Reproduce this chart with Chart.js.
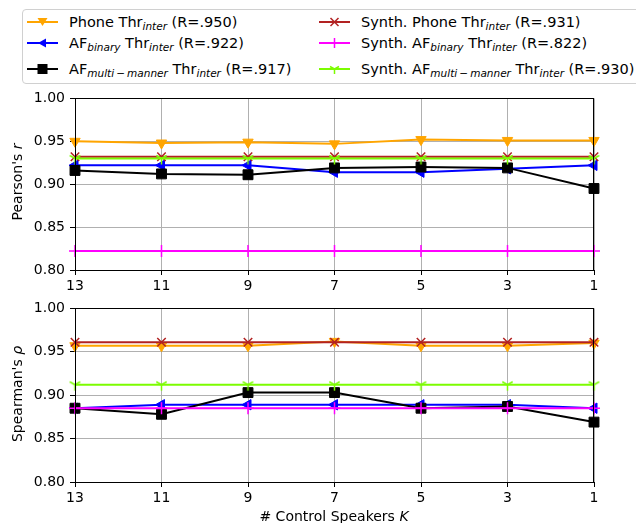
<!DOCTYPE html>
<html>
<head>
<meta charset="utf-8">
<script src="https://cdn.jsdelivr.net/npm/chart.js@4"></script>
<style>
  body { margin: 0; background: #fff; font-family: "DejaVu Sans", sans-serif; }
  #wrap { position: relative; width: 636px; height: 523px; overflow: hidden; }
  #legend { position: absolute; left: 22px; top: 9px; width: 640px; height: 75px;
            border: 1px solid #d0d0d0; border-radius: 4px; box-sizing: border-box; }
  .item { position: absolute; height: 20px; line-height: 20px; font-size: 14.5px; white-space: nowrap; }
  .item svg { position: absolute; left: 0; top: 3px; }
  .item span { position: absolute; left: 42px; }
  sub { font-size: 10.5px; font-style: italic; vertical-align: -3px; line-height: 0; }
  canvas { position: absolute; left: 0; }
  .ytitle { position: absolute; font-size: 14px; white-space: nowrap; transform: translate(-50%, -50%) rotate(-90deg); }
  .xtitle { position: absolute; font-size: 14px; white-space: nowrap; transform: translateX(-50%); }
</style>
</head>
<body>
<div id="wrap">
  <div id="legend"></div>
  <canvas id="pearson" width="636" height="210" style="top:85px"></canvas>
  <canvas id="spearman" width="636" height="228" style="top:295px"></canvas>
  <div class="ytitle" style="left:17px; top:182px">Pearson's <i>r</i></div>
  <div class="ytitle" style="left:17px; top:394px">Spearman's <i>ρ</i></div>
  <div class="xtitle" style="left:334px; top:508px"># Control Speakers <i>K</i></div>
</div>
<script>
// x categories: number of control speakers
const speakers = ["13", "11", "9", "7", "5", "3", "1"];
const yTicks = [0.80, 0.85, 0.90, 0.95, 1.00];

// Pearson's r
const pearsonPhone = [0.950, 0.948, 0.949, 0.947, 0.952, 0.951, 0.951];
const pearsonAfBinary = [0.922, 0.922, 0.922, 0.914, 0.914, 0.918, 0.922];
const pearsonAfMulti = [0.916, 0.912, 0.911, 0.919, 0.920, 0.919, 0.895];
const pearsonSynthPhone = [0.932, 0.932, 0.932, 0.932, 0.932, 0.932, 0.932];
const pearsonSynthBinary = [0.822, 0.822, 0.822, 0.822, 0.822, 0.822, 0.822];
const pearsonSynthMulti = [0.930, 0.930, 0.930, 0.930, 0.930, 0.930, 0.930];

// Spearman's rho
const spearmanPhone = [0.957, 0.957, 0.957, 0.962, 0.957, 0.957, 0.960];
const spearmanAfBinary = [0.885, 0.889, 0.889, 0.889, 0.889, 0.889, 0.885];
const spearmanAfMulti = [0.885, 0.878, 0.903, 0.903, 0.885, 0.887, 0.869];
const spearmanSynthPhone = [0.961, 0.961, 0.961, 0.961, 0.961, 0.961, 0.961];
const spearmanSynthBinary = [0.885, 0.885, 0.885, 0.885, 0.885, 0.885, 0.885];
const spearmanSynthMulti = [0.912, 0.912, 0.912, 0.912, 0.912, 0.912, 0.912];

Chart.defaults.font.family = "DejaVu Sans";
Chart.defaults.font.size = 14;
Chart.defaults.color = "#000";

// tri_down marker (like matplotlib '1')
function triDown(color) {
    const c = document.createElement("canvas");
    c.width = 13; c.height = 13;
    const g = c.getContext("2d");
    g.strokeStyle = color;
    g.lineWidth = 1.5;
    g.beginPath();
    g.moveTo(6.5, 6.5); g.lineTo(6.5, 12.5);
    g.moveTo(6.5, 6.5); g.lineTo(1.3, 3.5);
    g.moveTo(6.5, 6.5); g.lineTo(11.7, 3.5);
    g.stroke();
    return c;
}

const styles = [
    { color: "#ffa500", pointStyle: "triangle", rotation: 180, radius: 6, order: 6 },
    { color: "#0000ff", pointStyle: "triangle", rotation: 270, radius: 6, order: 5 },
    { color: "#000000", pointStyle: "rect", rotation: 0, radius: 7, order: 4 },
    { color: "#b22222", pointStyle: "crossRot", rotation: 0, radius: 6, order: 3 },
    { color: "#ff00ff", pointStyle: "cross", rotation: 0, radius: 6, order: 2 },
    { color: "#7cfc00", pointStyle: triDown("#7cfc00"), rotation: 0, radius: 6, order: 1 },
];

// spines on all four sides
const boxPlugin = {
    id: "box",
    afterDatasetsDraw(chart) {
        const a = chart.chartArea, ctx = chart.ctx;
        ctx.save();
        ctx.strokeStyle = "#000";
        ctx.lineWidth = 1;
        ctx.strokeRect(Math.round(a.left) + 0.5, Math.round(a.top) + 0.5,
            Math.round(a.right - a.left) - 1, Math.round(a.bottom - a.top));
        ctx.restore();
    }
};

function makeChart(id, series, padTop, xHeight) {
    const datasets = series.map((data, i) => ({
        data: data,
        borderColor: styles[i].color,
        backgroundColor: styles[i].color,
        borderWidth: 2,
        pointStyle: styles[i].pointStyle,
        pointRotation: styles[i].rotation,
        pointRadius: styles[i].radius,
        pointBorderWidth: (i === 3 || i === 4) ? 1.5 : 1,
        order: styles[i].order,
        tension: 0,
    }));
    return new Chart(document.getElementById(id), {
        type: "line",
        data: { labels: speakers, datasets: datasets },
        options: {
            responsive: false,
            animation: false,
            layout: { padding: { top: padTop, right: 42, left: 0, bottom: 0 } },
            plugins: { legend: { display: false }, tooltip: { enabled: false } },
            scales: {
                x: {
                    offset: false,
                    grid: { color: "#b0b0b0", tickColor: "#000", tickLength: 5, offset: false },
                    border: { display: false },
                    ticks: { padding: 3, maxRotation: 0 },
                    afterFit: (s) => { s.height = xHeight; },
                },
                y: {
                    min: 0.80,
                    max: 1.00,
                    afterBuildTicks: (s) => { s.ticks = yTicks.map(v => ({ value: v })); },
                    grid: { color: "#b0b0b0", tickColor: "#000", tickLength: 5 },
                    border: { display: false },
                    ticks: { padding: 5, callback: (v) => v.toFixed(2) },
                    afterFit: (s) => { s.width = 75; },
                },
            },
        },
        plugins: [boxPlugin],
    });
}

makeChart("pearson", [pearsonPhone, pearsonAfBinary, pearsonAfMulti,
    pearsonSynthPhone, pearsonSynthBinary, pearsonSynthMulti], 9, 25);
makeChart("spearman", [spearmanPhone, spearmanAfBinary, spearmanAfMulti,
    spearmanSynthPhone, spearmanSynthBinary, spearmanSynthMulti], 11, 41);

// HTML legend (needs subscripts)
const legendLabels = [
    'Phone Thr<sub>inter</sub> (R=.950)',
    'AF<sub>binary</sub> Thr<sub>inter</sub> (R=.922)',
    'AF<sub>multi\u2009\u2212\u2009manner</sub> Thr<sub>inter</sub> (R=.917)',
    'Synth. Phone Thr<sub>inter</sub> (R=.931)',
    'Synth. AF<sub>binary</sub> Thr<sub>inter</sub> (R=.822)',
    'Synth. AF<sub>multi\u2009\u2212\u2009manner</sub> Thr<sub>inter</sub> (R=.930)',
];
const markerSvg = [
    '<polygon points="10.5,3 20.5,3 15.5,11" fill="#ffa500"/>',
    '<polygon points="11,7 19,2.5 19,11.5" fill="#0000ff"/>',
    '<rect x="10.5" y="2" width="10" height="10" fill="#000"/>',
    '<path d="M11.5,3 L19.5,11 M19.5,3 L11.5,11" stroke="#b22222" stroke-width="1.5"/>',
    '<path d="M15.5,2 L15.5,12" stroke="#ff00ff" stroke-width="1.5"/>',
    '<path d="M15.5,7 L15.5,12 M15.5,7 L11,4.5 M15.5,7 L20,4.5" stroke="#7cfc00" stroke-width="1.5"/>',
];
const legend = document.getElementById("legend");
legendLabels.forEach((label, i) => {
    const col = Math.floor(i / 3), row = i % 3;
    const d = document.createElement("div");
    d.className = "item";
    d.style.left = (col === 0 ? 4 : 296) + "px";
    d.style.top = [1.7, 23.3, 49][row] + "px";
    d.innerHTML = '<svg width="31" height="14"><line x1="0" y1="7" x2="31" y2="7" stroke="' +
        styles[i].color + '" stroke-width="2"/>' + markerSvg[i] + '</svg><span>' + label + '</span>';
    legend.appendChild(d);
});
</script>
</body>
</html>
